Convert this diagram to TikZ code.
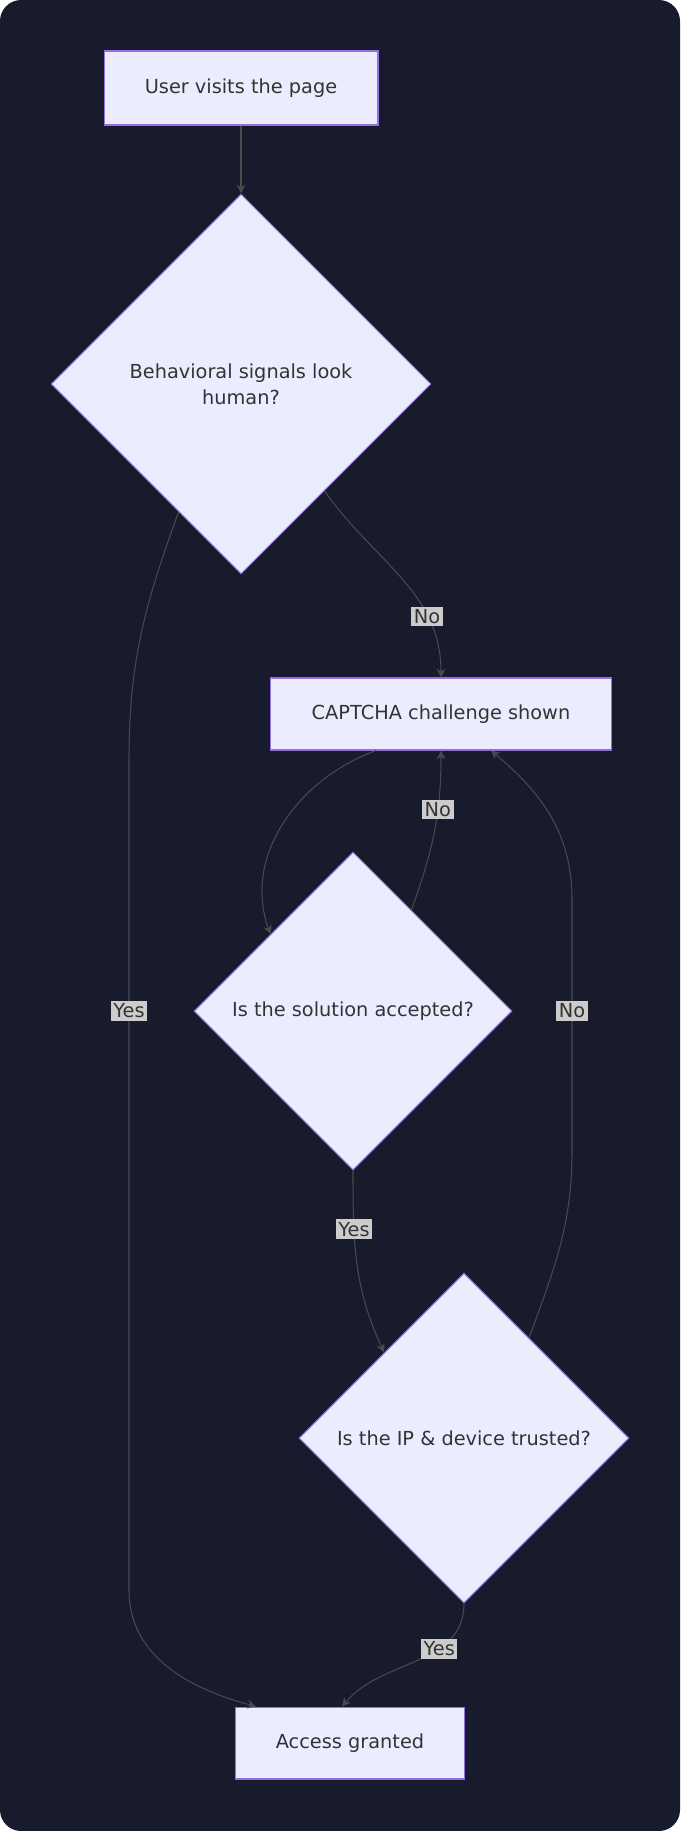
\documentclass[tikz,border=0pt]{standalone}
\usepackage{fontspec}
\setmainfont{DejaVu Sans}
\usetikzlibrary{shapes.geometric,arrows.meta}
\definecolor{bgdark}{HTML}{181B2C}
\definecolor{nodefill}{HTML}{ECECFF}
\definecolor{nodeline}{HTML}{9370DB}
\definecolor{edgecol}{HTML}{4A4A4A}
\definecolor{lblfill}{HTML}{CCCCCC}
\definecolor{txt}{HTML}{333333}
\tikzset{
  box/.style={draw=nodeline, fill=nodefill, rectangle, line width=0.6pt,
    text=txt, font=\fontsize{11}{15}\selectfont, inner sep=0pt},
  ask/.style={draw=nodeline, fill=nodefill, diamond, line width=0.6pt,
    text=txt, font=\fontsize{11}{15}\selectfont, inner sep=0pt, align=center},
  flow/.style={draw=edgecol, line width=0.6pt, -{Stealth[length=5pt,width=5pt]}},
  lbl/.style={fill=lblfill, text=txt, font=\fontsize{11}{13}\selectfont,
    inner sep=1.5pt, draw=none}
}
\begin{document}
\begin{tikzpicture}[x=0.02cm, y=-0.02cm]
  \useasboundingbox (0,0) rectangle (680,1831);
  \fill[bgdark, rounded corners=12pt] (0,0) rectangle (680,1831);
  \node (visit) [box, minimum width=5.48cm, minimum height=1.48cm] at (241,88) {User visits the page};
  \node (human) [ask, minimum size=7.6cm] at (241,384) {Behavioral signals look\\ human?};
  \node (captcha) [box, minimum width=6.82cm, minimum height=1.44cm] at (441,714) {CAPTCHA challenge shown};
  \node (solved) [ask, minimum size=6.36cm] at (353,1011) {Is the solution accepted?};
  \node (trusted) [ask, minimum size=6.6cm] at (464,1438) {Is the IP \& device trusted?};
  \node (access) [box, minimum width=4.58cm, minimum height=1.44cm] at (350,1743) {Access granted};
\draw[flow] (visit) -- (human) ;
\draw[flow] (human.-52) to[out=-55,in=90] node[lbl, pos=0.72] {No} (captcha.north) ;
\draw[flow] (human.-116) to[out=-110,in=90] (129,760) -- (129,1590)
  to[out=-90,in=165] ([xshift=0.42cm]access.north west) ;
\node[lbl] at (129,1011) {Yes};
\draw[flow] ([xshift=-1.3cm]captcha.south) to[out=-160,in=110] (solved.137) ;
\draw[flow] (solved.60) to[out=70,in=-90] node[lbl, pos=0.65] {No} (captcha.south) ;
\draw[flow] (solved.south) to[out=-90,in=115] node[lbl, pos=0.3] {Yes} (trusted.133) ;
\draw[flow] (trusted.57) to[out=70,in=-90] (572,1150) -- (572,900)
  to[out=90,in=-40] ([xshift=1.0cm]captcha.south) ;
\node[lbl] at (572,1011) {No};
\draw[flow] (trusted.south) to[out=-90,in=50] node[lbl, pos=0.35] {Yes} ([xshift=-0.16cm]access.north) ;
\end{tikzpicture}
\end{document}
